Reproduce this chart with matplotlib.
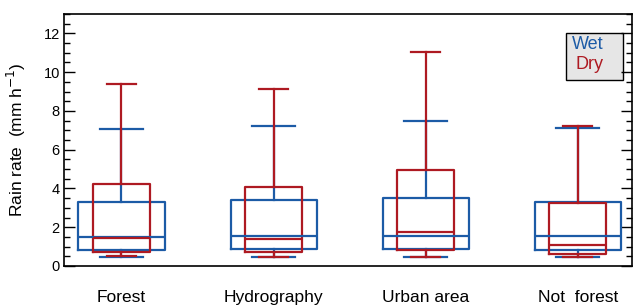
import matplotlib
matplotlib.use("Agg")
import matplotlib.pyplot as plt
from matplotlib.patches import Rectangle
from matplotlib.ticker import MultipleLocator

plt.rcParams['font.family'] = ['Liberation Sans', 'DejaVu Sans']

# Box statistics (mm/h)
categories = ["Forest", "Hydrography", "Urban area", "Not  forest"]
wet_low = [0.48, 0.48, 0.48, 0.48]
wet_q1 = [0.84, 0.86, 0.86, 0.83]
wet_med = [1.52, 1.55, 1.57, 1.53]
wet_q3 = [3.32, 3.39, 3.50, 3.32]
wet_high = [7.08, 7.24, 7.48, 7.10]

dry_low = [0.50, 0.48, 0.48, 0.48]
dry_q1 = [0.72, 0.72, 0.83, 0.64]
dry_med = [1.45, 1.41, 1.76, 1.10]
dry_q3 = [4.22, 4.10, 4.93, 3.26]
dry_high = [9.39, 9.15, 11.06, 7.20]

blue = "#1c5ba6"
red = "#ae1a22"


def make_stats(lo, q1, med, q3, hi):
    return [dict(whislo=a, q1=b, med=c, q3=d, whishi=e, fliers=[])
            for a, b, c, d, e in zip(lo, q1, med, q3, hi)]


fig = plt.figure(figsize=(6.35, 3.07), dpi=100)
ax = fig.add_axes([0.1008, 0.1336, 0.8945, 0.8208])

pos = list(range(1, len(categories) + 1))


def draw(stats, color, width):
    lp = dict(color=color, linewidth=1.6)
    ax.bxp(stats, positions=pos, widths=width, capwidths=width / 2,
           showfliers=False, boxprops=lp, whiskerprops=lp, capprops=lp,
           medianprops=lp, manage_ticks=False)


draw(make_stats(wet_low, wet_q1, wet_med, wet_q3, wet_high), blue, 0.566)
draw(make_stats(dry_low, dry_q1, dry_med, dry_q3, dry_high), red, 0.375)

ax.set_xlim(0.622, 4.357)
ax.set_ylim(0, 13)
ax.set_xticks(pos)
ax.set_xticklabels(categories, fontsize=12.5)
ax.tick_params(axis='x', length=0, pad=17)

ax.yaxis.set_major_locator(MultipleLocator(2))
ax.yaxis.set_minor_locator(MultipleLocator(0.5))
ax.tick_params(axis='y', which='both', direction='in', left=True, right=True,
               labelsize=10.5, pad=3)
ax.tick_params(axis='y', which='major', length=8, width=1)
ax.tick_params(axis='y', which='minor', length=4.5, width=1)

for s in ax.spines.values():
    s.set_linewidth(1.2)

ax.set_ylabel("Rain rate  (mm h$^{-1}$)", fontsize=12.5)
ax.yaxis.set_label_coords(-0.063, 0.5)

# legend box
ax.add_patch(Rectangle((0.884, 0.738), 0.100, 0.187, transform=ax.transAxes,
                       facecolor="#e6e6e6", edgecolor="black", linewidth=1,
                       zorder=1))
ax.text(0.9225, 0.877, "Wet", color=blue, fontsize=13, ha='center',
        va='center', transform=ax.transAxes)
ax.text(0.926, 0.798, "Dry", color=red, fontsize=13, ha='center',
        va='center', transform=ax.transAxes)

fig.savefig("out.png", dpi=100)
